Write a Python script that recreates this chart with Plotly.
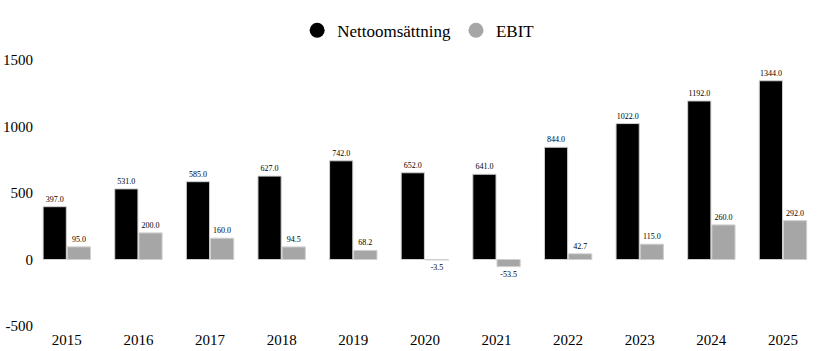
import plotly.graph_objects as go

years = ["2015", "2016", "2017", "2018", "2019", "2020", "2021", "2022", "2023", "2024", "2025"]
nettoomsattning = [397.0, 531.0, 585.0, 627.0, 742.0, 652.0, 641.0, 844.0, 1022.0, 1192.0, 1344.0]
ebit = [95.0, 200.0, 160.0, 94.5, 68.2, -3.5, -53.5, 42.7, 115.0, 260.0, 292.0]
y_ticks = [-500, 0, 500, 1000, 1500]

font_family = "Liberation Serif, Times New Roman, serif"
black = "#000000"
gray = "#a6a6a6"
outline = "#d0d0d0"

fig = go.Figure()
fig.add_trace(go.Bar(
    x=years, y=nettoomsattning, name="Nettoomsättning",
    marker=dict(color=black, line=dict(color=outline, width=1)),
    text=[f"{v:.1f}" for v in nettoomsattning], textposition="outside",
    textfont=dict(size=8, color="#000000", family=font_family),
    cliponaxis=False, showlegend=False,
))
fig.add_trace(go.Bar(
    x=years, y=ebit, name="EBIT",
    marker=dict(color=gray, line=dict(color=outline, width=1)),
    text=[f"{v:.1f}" for v in ebit], textposition="outside",
    textfont=dict(size=8, color="#000000", family=font_family),
    cliponaxis=False, showlegend=False,
))
# legend entries with circle markers
fig.add_trace(go.Scatter(x=[None], y=[None], mode="markers", name="Nettoomsättning",
                         marker=dict(color=black, size=15, symbol="circle")))
fig.add_trace(go.Scatter(x=[None], y=[None], mode="markers", name="EBIT",
                         marker=dict(color=gray, size=15, symbol="circle")))

fig.update_layout(
    width=820, height=351,
    margin=dict(l=34, r=1, t=60, b=25),
    paper_bgcolor="white", plot_bgcolor="white",
    font=dict(family=font_family, size=15, color="#000000"),
    barmode="group", bargap=0.325, bargroupgap=0.04,
    uniformtext=dict(minsize=8, mode="show"),
    legend=dict(orientation="h", x=0.49, xanchor="center", y=1.11, yanchor="middle",
                font=dict(size=17, family=font_family)),
    xaxis=dict(type="category", range=[-0.458, 10.503], showgrid=False, showline=False,
               zeroline=False, ticks="", tickfont=dict(size=15), automargin=False,
               ticklabelstandoff=3),
    yaxis=dict(range=[-500, 1500], tickvals=y_ticks, ticktext=[str(v) for v in y_ticks],
               showgrid=False, showline=False, zeroline=False, ticks="",
               tickfont=dict(size=15), automargin=False),
)

fig.write_html("out.html")
